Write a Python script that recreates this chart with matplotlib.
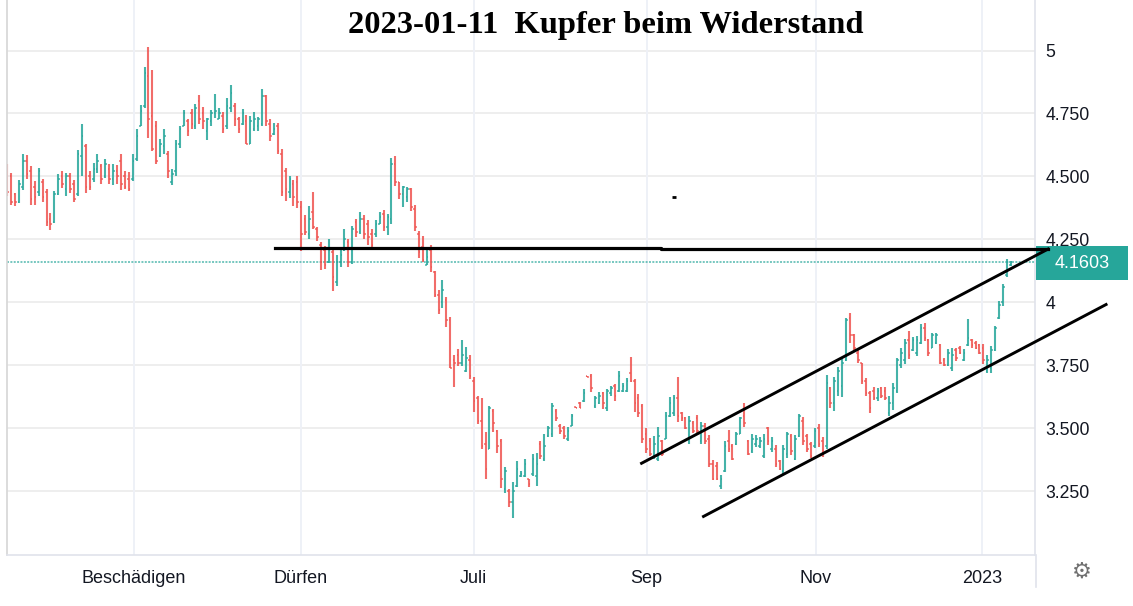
#!/usr/bin/env python3
# -*- coding: utf-8 -*-

import numpy as np
import matplotlib
matplotlib.use("Agg")
import matplotlib.pyplot as plt
import matplotlib.transforms as mtrans
from matplotlib.patches import Rectangle
from matplotlib.lines import Line2D

opens = [
    4.53, 4.50, 4.43, 4.40, 4.46, 4.56, 4.52, 4.46, 4.44, 4.48,
    4.44, 4.33, 4.32, 4.43, 4.50, 4.45, 4.50, 4.47, 4.43, 4.58,
    4.62, 4.50, 4.49, 4.53, 4.54, 4.50, 4.53, 4.49, 4.52, 4.56,
    4.50, 4.49, 4.49, 4.57, 4.70, 4.78, 4.90, 4.74, 4.70, 4.58,
    4.62, 4.59, 4.48, 4.52, 4.63, 4.70, 4.72, 4.75, 4.70, 4.80,
    4.75, 4.68, 4.72, 4.75, 4.73, 4.74, 4.70, 4.77, 4.78, 4.73,
    4.71, 4.72, 4.63, 4.69, 4.70, 4.71, 4.82, 4.71, 4.67, 4.70,
    4.59, 4.52, 4.44, 4.47, 4.48,
    4.38, 4.33, 4.27, 4.36, 4.29, 4.23, 4.21, 4.16, 4.20, 4.08,
    4.16, 4.21, 4.24, 4.16, 4.32, 4.28, 4.33, 4.31, 4.27, 4.27,
    4.31, 4.35, 4.30, 4.33, 4.55, 4.48, 4.43, 4.42, 4.45, 4.37,
    4.27, 4.22, 4.15, 4.21, 4.12, 4.03, 4.00, 4.01, 3.93, 3.77,
    3.79, 3.76, 3.73, 3.77, 3.69, 3.62, 3.53, 3.44, 3.42, 3.57,
    3.49, 3.45, 3.26, 3.25, 3.21, 3.27, 3.31, 3.31, 3.30,
    3.32, 3.31, 3.44, 3.38, 3.47, 3.48, 3.57, 3.51, 3.50, 3.46,
    3.51, 3.584, 3.60, 3.61, 3.71, 3.71, 3.59, 3.60, 3.64, 3.58,
    3.64, 3.67, 3.65, 3.65, 3.65, 3.72, 3.69, 3.62, 3.59, 3.48,
    3.45, 3.39, 3.38, 3.45, 3.46, 3.55, 3.56, 3.62, 3.56, 3.54,
    3.46, 3.52,
    3.54, 3.45, 3.51, 3.46, 3.36, 3.35, 3.27, 3.33, 3.45, 3.43,
    3.44, 3.48, 3.55, 3.45, 3.41, 3.44, 3.43, 3.39, 3.50, 3.42,
    3.42, 3.37, 3.33, 3.40, 3.47, 3.38, 3.47, 3.53, 3.47, 3.44,
    3.43, 3.50, 3.45,
    3.43, 3.66, 3.60, 3.65, 3.67, 3.77, 3.94, 3.87, 3.80, 3.76,
    3.69, 3.64, 3.65, 3.62, 3.66, 3.65, 3.56, 3.60, 3.65, 3.75,
    3.77, 3.85, 3.81, 3.80, 3.84, 3.90, 3.85, 3.82, 3.84, 3.83,
    3.77, 3.75, 3.74, 3.81, 3.82, 3.77, 3.83, 3.85, 3.84, 3.83,
    3.82, 3.73, 3.74, 3.81, 3.94, 4.00, 4.11, 4.15,
]
highs = [
    4.548, 4.512, 4.435, 4.488, 4.588, 4.584, 4.541, 4.481, 4.535, 4.491,
    4.451, 4.355, 4.444, 4.511, 4.521, 4.515, 4.515, 4.488, 4.605, 4.707,
    4.630, 4.521, 4.552, 4.588, 4.550, 4.570, 4.548, 4.548, 4.546, 4.588,
    4.521, 4.517, 4.588, 4.690, 4.783, 4.933, 5.013, 4.924, 4.721, 4.648,
    4.690, 4.601, 4.528, 4.644, 4.701, 4.763, 4.730, 4.767, 4.787, 4.823,
    4.774, 4.734, 4.765, 4.827, 4.770, 4.754, 4.810, 4.863, 4.791, 4.737,
    4.767, 4.743, 4.741, 4.754, 4.737, 4.847, 4.823, 4.727, 4.711, 4.714,
    4.608, 4.535, 4.501, 4.488, 4.501,
    4.401, 4.348, 4.382, 4.438, 4.299, 4.242, 4.224, 4.253, 4.213, 4.187,
    4.213, 4.290, 4.253, 4.303, 4.332, 4.359, 4.348, 4.329, 4.290, 4.329,
    4.359, 4.369, 4.352, 4.573, 4.581, 4.480, 4.464, 4.460, 4.454, 4.388,
    4.282, 4.263, 4.216, 4.229, 4.126, 4.048, 4.091, 4.021, 3.942, 3.790,
    3.816, 3.853, 3.823, 3.792, 3.704, 3.628, 3.620, 3.485, 3.591, 3.578,
    3.495, 3.459, 3.347, 3.261, 3.287, 3.373, 3.333, 3.380, 3.300,
    3.397, 3.401, 3.451, 3.477, 3.508, 3.601, 3.577, 3.517, 3.511, 3.504,
    3.557, 3.584, 3.604, 3.657, 3.710, 3.717, 3.630, 3.644, 3.644, 3.657,
    3.670, 3.677, 3.730, 3.681, 3.700, 3.783, 3.697, 3.637, 3.597, 3.500,
    3.464, 3.471, 3.504, 3.455, 3.564, 3.624, 3.633, 3.703, 3.566, 3.544,
    3.551, 3.531,
    3.553, 3.527, 3.520, 3.474, 3.374, 3.368, 3.315, 3.451, 3.493, 3.440,
    3.487, 3.546, 3.602, 3.454, 3.480, 3.474, 3.467, 3.480, 3.507, 3.467,
    3.434, 3.374, 3.434, 3.487, 3.480, 3.474, 3.557, 3.546, 3.480, 3.447,
    3.500, 3.517, 3.467,
    3.711, 3.665, 3.704, 3.743, 3.774, 3.940, 3.960, 3.874, 3.810, 3.761,
    3.701, 3.648, 3.664, 3.661, 3.664, 3.664, 3.628, 3.681, 3.781, 3.820,
    3.854, 3.887, 3.863, 3.867, 3.914, 3.920, 3.854, 3.880, 3.880, 3.834,
    3.781, 3.814, 3.820, 3.820, 3.827, 3.814, 3.934, 3.854, 3.847, 3.834,
    3.834, 3.790, 3.827, 3.907, 4.007, 4.073, 4.173, 4.165,
]
lows = [
    4.421, 4.388, 4.382, 4.395, 4.448, 4.491, 4.388, 4.388, 4.424, 4.398,
    4.305, 4.286, 4.315, 4.428, 4.455, 4.421, 4.435, 4.398, 4.424, 4.501,
    4.435, 4.448, 4.477, 4.515, 4.471, 4.495, 4.472, 4.468, 4.472, 4.448,
    4.451, 4.441, 4.481, 4.561, 4.701, 4.770, 4.654, 4.601, 4.548, 4.577,
    4.590, 4.495, 4.467, 4.501, 4.615, 4.701, 4.661, 4.690, 4.690, 4.707,
    4.690, 4.644, 4.701, 4.734, 4.727, 4.674, 4.690, 4.757, 4.701, 4.674,
    4.705, 4.628, 4.628, 4.681, 4.681, 4.701, 4.701, 4.641, 4.664, 4.588,
    4.421, 4.402, 4.415, 4.382, 4.375,
    4.206, 4.266, 4.253, 4.290, 4.246, 4.127, 4.134, 4.157, 4.044, 4.067,
    4.140, 4.206, 4.140, 4.153, 4.259, 4.273, 4.253, 4.229, 4.213, 4.258,
    4.312, 4.282, 4.266, 4.312, 4.464, 4.411, 4.378, 4.398, 4.365, 4.282,
    4.176, 4.160, 4.147, 4.123, 4.021, 3.955, 3.978, 3.902, 3.739, 3.664,
    3.747, 3.747, 3.724, 3.697, 3.567, 3.519, 3.417, 3.300, 3.417, 3.485,
    3.404, 3.263, 3.245, 3.188, 3.144, 3.267, 3.307, 3.307, 3.267,
    3.310, 3.270, 3.378, 3.371, 3.468, 3.468, 3.531, 3.477, 3.460, 3.451,
    3.508, 3.580, 3.580, 3.604, 3.703, 3.644, 3.580, 3.597, 3.577, 3.570,
    3.630, 3.610, 3.644, 3.644, 3.644, 3.684, 3.566, 3.544, 3.444, 3.404,
    3.391, 3.378, 3.371, 3.391, 3.457, 3.544, 3.551, 3.527, 3.531, 3.497,
    3.437, 3.484,
    3.474, 3.440, 3.440, 3.348, 3.295, 3.295, 3.258, 3.328, 3.407, 3.374,
    3.434, 3.480, 3.507, 3.394, 3.401, 3.427, 3.421, 3.381, 3.434, 3.407,
    3.348, 3.335, 3.315, 3.381, 3.394, 3.374, 3.467, 3.434, 3.407, 3.381,
    3.421, 3.427, 3.387,
    3.420, 3.580, 3.570, 3.628, 3.624, 3.767, 3.840, 3.807, 3.761, 3.677,
    3.628, 3.561, 3.614, 3.608, 3.621, 3.614, 3.548, 3.574, 3.641, 3.741,
    3.754, 3.774, 3.807, 3.787, 3.834, 3.847, 3.787, 3.820, 3.834, 3.754,
    3.747, 3.747, 3.727, 3.767, 3.794, 3.767, 3.827, 3.820, 3.814, 3.794,
    3.754, 3.720, 3.721, 3.807, 3.934, 3.987, 4.100, 4.146,
]
closes = [
    4.44, 4.40, 4.40, 4.47, 4.56, 4.51, 4.41, 4.42, 4.52, 4.42,
    4.32, 4.31, 4.43, 4.49, 4.47, 4.50, 4.45, 4.41, 4.59, 4.66,
    4.46, 4.46, 4.53, 4.56, 4.49, 4.55, 4.49, 4.52, 4.50, 4.47,
    4.46, 4.45, 4.56, 4.66, 4.76, 4.91, 4.73, 4.61, 4.56, 4.63,
    4.66, 4.52, 4.51, 4.63, 4.69, 4.75, 4.68, 4.71, 4.77, 4.73,
    4.72, 4.73, 4.75, 4.76, 4.75, 4.69, 4.78, 4.83, 4.73, 4.69,
    4.75, 4.63, 4.72, 4.73, 4.73, 4.82, 4.72, 4.66, 4.69, 4.60,
    4.44, 4.45, 4.49, 4.42, 4.40,
    4.27, 4.28, 4.33, 4.30, 4.26, 4.16, 4.15, 4.21, 4.10, 4.16,
    4.19, 4.25, 4.16, 4.29, 4.28, 4.33, 4.27, 4.26, 4.23, 4.31,
    4.34, 4.30, 4.34, 4.55, 4.48, 4.43, 4.46, 4.45, 4.38, 4.30,
    4.20, 4.17, 4.18, 4.14, 4.03, 3.97, 4.05, 3.93, 3.74, 3.76,
    3.76, 3.79, 3.78, 3.71, 3.61, 3.53, 3.43, 3.34, 3.58, 3.52,
    3.43, 3.30, 3.33, 3.21, 3.25, 3.34, 3.32, 3.36, 3.28,
    3.38, 3.36, 3.39, 3.43, 3.50, 3.59, 3.54, 3.49, 3.47, 3.49,
    3.55, 3.580, 3.58, 3.64, 3.705, 3.66, 3.62, 3.63, 3.60, 3.65,
    3.66, 3.63, 3.71, 3.67, 3.69, 3.69, 3.60, 3.56, 3.46, 3.42,
    3.40, 3.44, 3.47, 3.40, 3.55, 3.60, 3.62, 3.55, 3.54, 3.50,
    3.53, 3.49,
    3.49, 3.51, 3.45, 3.36, 3.30, 3.30, 3.30, 3.43, 3.42, 3.38,
    3.48, 3.54, 3.52, 3.40, 3.46, 3.46, 3.45, 3.46, 3.45, 3.45,
    3.36, 3.34, 3.42, 3.48, 3.41, 3.46, 3.55, 3.45, 3.42, 3.39,
    3.49, 3.44, 3.40,
    3.68, 3.60, 3.69, 3.73, 3.76, 3.93, 3.87, 3.82, 3.77, 3.69,
    3.64, 3.58, 3.62, 3.65, 3.63, 3.62, 3.60, 3.66, 3.77, 3.80,
    3.84, 3.79, 3.85, 3.85, 3.90, 3.86, 3.80, 3.87, 3.87, 3.76,
    3.75, 3.80, 3.79, 3.78, 3.80, 3.80, 3.86, 3.83, 3.82, 3.80,
    3.77, 3.77, 3.81, 3.90, 3.99, 4.06, 4.16, 4.1603,
]

# Monatsbeschriftung (Balkenindex der Monatsanfaenge)
month_labels = ["Beschädigen", "Dürfen", "Juli", "Sep", "Nov", "2023"]
month_pos = [32.3, 74.9, 119.0, 163.1, 206.3, 248.6]

price_ticks = [3.25, 3.5, 3.75, 4.0, 4.25, 4.5, 4.75, 5.0]
price_labels = ["3.250", "3.500", "3.750", "4", "4.250", "4.500", "4.750", "5"]

# Eingezeichnete Linien (Balkenindex, Preis)
resist_x = [68.3, 166.8, 166.8, 265.5]
resist_y = [4.216, 4.216, 4.212, 4.212]
upper_x = [161.8, 265.5]
upper_y = [3.362, 4.212]
lower_x = [177.6, 280.3]
lower_y = [3.151, 3.992]
dot_x, dot_y = 170.0, 4.42

UP = "#26a69a"
DOWN = "#ef5350"

opens = np.array(opens)
highs = np.array(highs)
lows = np.array(lows)
closes = np.array(closes)
idx = np.arange(len(closes))

W, H = 1133, 606
fig = plt.figure(figsize=(W / 100, H / 100), dpi=100)
fig.patch.set_facecolor("white")
ax = fig.add_axes([7 / W, 51 / H, 1028 / W, 555 / H])

# Gitter
for p in price_ticks:
    ax.axhline(p, color="#ebebeb", lw=1.2, zorder=0)
for m in month_pos:
    ax.axvline(m, color="#eef1f7", lw=1.4, zorder=0)

# OHLC-Balken
cols = np.where(closes >= opens, UP, DOWN)
ax.vlines(idx, lows, highs, colors=cols, lw=1.5, alpha=0.85, zorder=2)
ax.hlines(opens, idx - 0.4, idx, colors=cols, lw=1.1, alpha=0.85, zorder=2)
ax.hlines(closes, idx, idx + 0.4, colors=cols, lw=1.1, alpha=0.85, zorder=2)

# letzte Kurslinie
last = closes[-1]
ax.axhline(last, color=UP, lw=1.1, ls=(0, (1.3, 0.9)), alpha=0.8, zorder=1)

ax.set_xlim(-0.08, 262.17)
ax.set_ylim(2.998, 5.2004)

# Preisfeld rechts
trans = mtrans.blended_transform_factory(ax.transAxes, ax.transData)
box_h = 34 / 252
ax.add_patch(Rectangle((1.0008, last - box_h / 2 - 0.005), 0.0895, box_h,
                       transform=trans, facecolor=UP, edgecolor="none",
                       clip_on=False, zorder=5))
ax.text(1.0457, last - 0.005, "4.1603", transform=trans, color="white",
        fontsize=13, ha="center", va="center", zorder=6,
        family=["Liberation Sans", "DejaVu Sans"])

# Trendlinien (ueber dem Preisfeld)
ax.plot(resist_x, resist_y, color="black", lw=2.3, clip_on=False, zorder=7)
ax.plot(upper_x, upper_y, color="black", lw=2.1, clip_on=False, zorder=7)
ax.plot(lower_x, lower_y, color="black", lw=2.1, clip_on=False, zorder=7)
ax.plot([dot_x - 0.5, dot_x + 0.5], [dot_y, dot_y], color="black", lw=2,
        solid_capstyle="butt", zorder=7)

# Achsen
ax.yaxis.tick_right()
ax.set_yticks(price_ticks)
ax.set_yticklabels(price_labels)
ax.set_xticks(month_pos)
ax.set_xticklabels(month_labels)
ax.tick_params(axis="y", length=0, pad=7.5, labelsize=12.7, labelcolor="#131722")
ax.tick_params(axis="x", length=0, pad=10.5, labelsize=13, labelcolor="#131722")
for lab in ax.get_xticklabels() + ax.get_yticklabels():
    lab.set_family(["Liberation Sans", "DejaVu Sans"])

ax.spines["top"].set_visible(False)
ax.spines["left"].set_color("#d6d6d6")
ax.spines["left"].set_linewidth(1.2)
ax.spines["bottom"].set_color("#e0e3eb")
ax.spines["bottom"].set_linewidth(1.2)
ax.spines["right"].set_color("#e0e3eb")
ax.spines["right"].set_linewidth(1.2)

# Trennlinie unter der Preisachse
fig.add_artist(Line2D([1035.5 / W, 1035.5 / W], [(H - 587) / H, 51 / H],
                      color="#e0e3eb", lw=1.2))

# Titel
fig.text(606 / W, (H - 25) / H, "2023-01-11  Kupfer beim Widerstand",
         ha="center", va="center", fontsize=23.4, fontweight="bold",
         family=["Liberation Serif", "DejaVu Serif"], color="black")

# Zahnrad
fig.text(1082 / W, (H - 572) / H, "\u2699", ha="center", va="center",
         fontsize=16, color="#707070", family="DejaVu Sans")

fig.savefig("out.png", dpi=100)
